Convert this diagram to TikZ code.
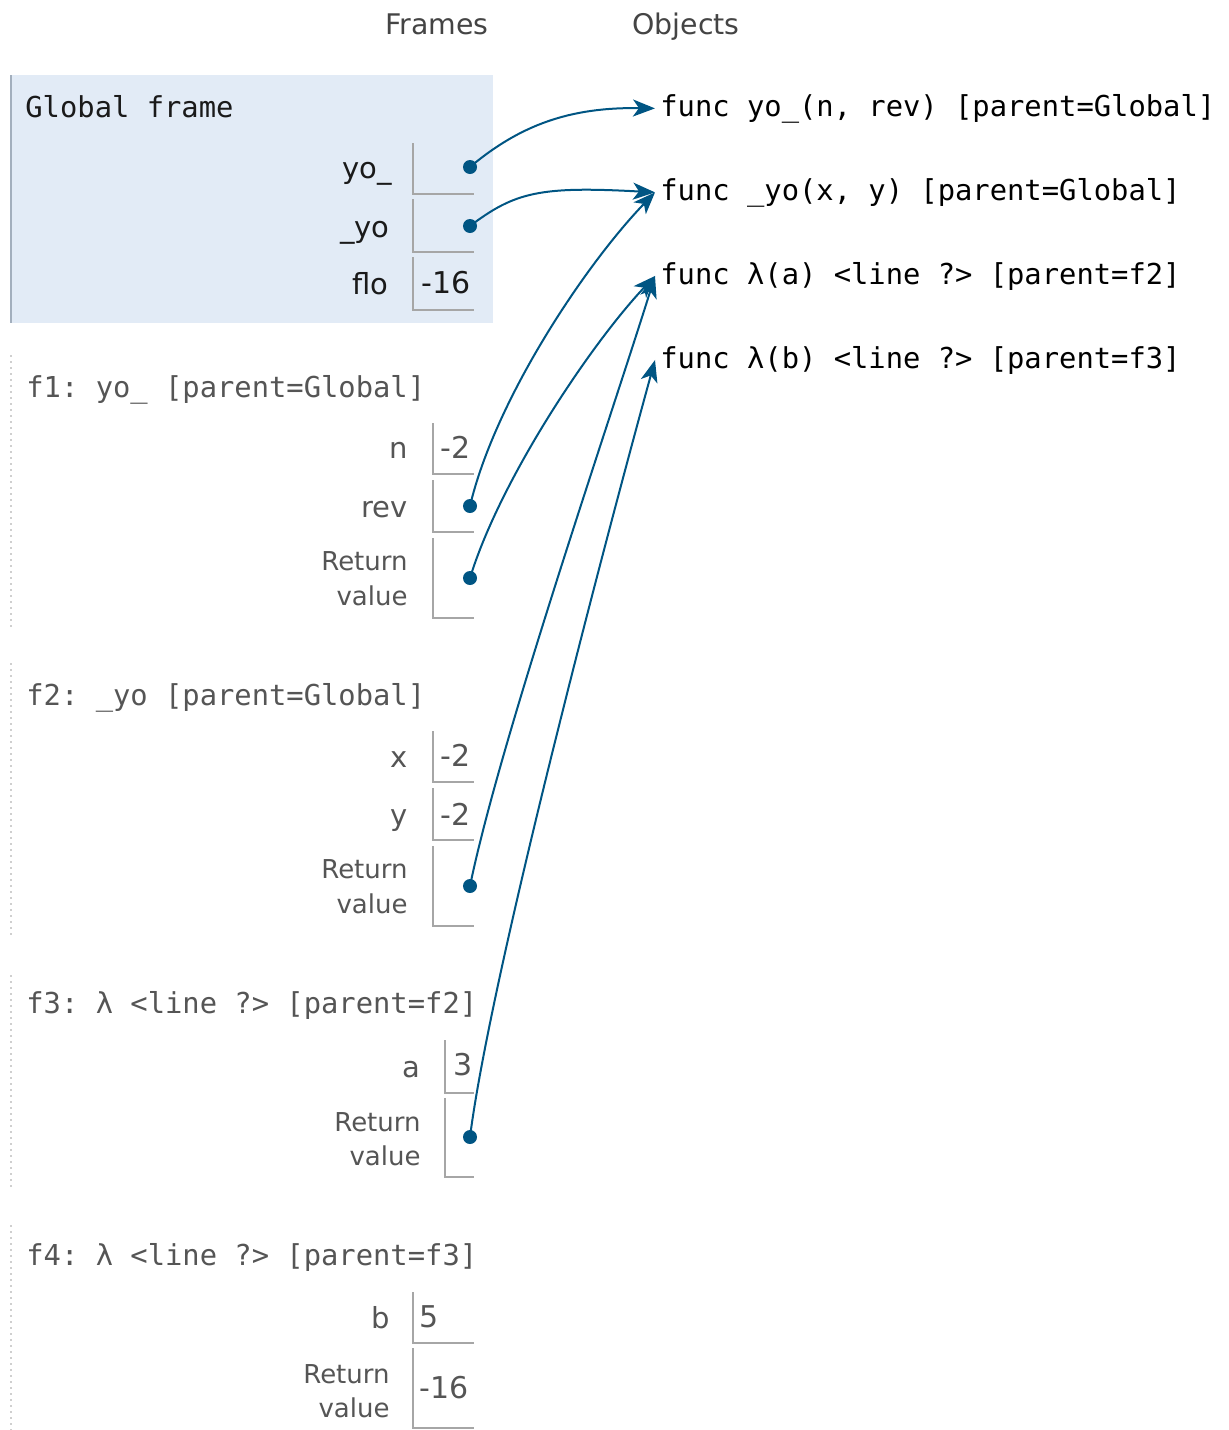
\documentclass[tikz,border=0pt]{standalone}
\usepackage{fontspec}
\setmainfont{DejaVu Sans}
\setmonofont{DejaVu Sans Mono}
\usetikzlibrary{arrows.meta}
\definecolor{ptrblue}{HTML}{005583}
\definecolor{globalbg}{HTML}{E2EBF6}
\definecolor{globaledge}{HTML}{A3AFBD}
\definecolor{boxgray}{HTML}{A6A6A6}
\definecolor{txtgray}{HTML}{555555}
\definecolor{txtdark}{HTML}{1A1A1A}
\definecolor{dotgray}{HTML}{CFCFCF}
\begin{document}
\begin{tikzpicture}[x=0.5pt,y=-0.5pt,
  header/.style={font=\fontsize{14.2}{16}\selectfont, text=txtgray!80!black, anchor=base west, inner sep=0pt},
  monotxt/.style={font=\ttfamily\fontsize{14.4}{16}\selectfont, anchor=base west, inner sep=0pt},
  gtitle/.style={monotxt, text=txtdark},
  ftitle/.style={monotxt, text=txtgray},
  objtxt/.style={monotxt, text=black, inner xsep=2.5pt},
  gname/.style={font=\fontsize{14.5}{16}\selectfont, text=txtdark, anchor=base east, inner sep=0pt},
  fname/.style={gname, text=txtgray},
  gval/.style={font=\fontsize{15}{16}\selectfont, text=txtdark, anchor=base west, inner sep=0pt},
  fval/.style={gval, text=txtgray},
  retlbl/.style={font=\fontsize{13}{15}\selectfont, text=txtgray, anchor=base east, inner sep=0pt},
  boxline/.style={draw=boxgray, line width=0.75pt},
  frameedge/.style={draw=dotgray, line width=1pt, dotted},
  ptrdot/.style={circle, fill=ptrblue, inner sep=0pt, minimum size=7pt},
  ptr/.style={draw=ptrblue, line width=1pt, -{Stealth[length=11pt, width=8.5pt, inset=3pt]}}
]
\useasboundingbox (0,0) rectangle (1228,1430);

% headers
\node[header] (hFrames) at (385,34) {Frames};
\node[header] (hObjects) at (632,34) {Objects};

% global frame
\fill[globalbg] (10,75) rectangle (493,323);
\draw[globaledge, line width=1.3pt] (11,75) -- (11,323);
\node[gtitle] (gTitle) at (25,117) {Global frame};
\node[gname] (gYoL) at (392,178) {yo\_};
\draw[boxline] (413,143) |- (474,194);
\node[ptrdot] (gYoD) at (470,167) {};
\node[gname] (gYo2L) at (390,237) {\_yo};
\draw[boxline] (413,199) |- (474,252);
\node[ptrdot] (gYo2D) at (470,226) {};
\node[gname] (gFloL) at (389,294) {flo};
\draw[boxline] (413,257) |- (474,310);
\node[gval] (gFloV) at (421,293) {-16};

% f1
\draw[frameedge] (11,355) -- (11,628);
\node[ftitle] (f1Title) at (26,397) {f1: yo\_ [parent=Global]};
\node[fname] (f1nL) at (408,458) {n};
\draw[boxline] (433,423) |- (474,474);
\node[fval] (f1nV) at (440,458) {-2};
\node[fname] (f1revL) at (408,517) {rev};
\draw[boxline] (433,480) |- (474,532);
\node[ptrdot] (f1revD) at (470,506) {};
\node[retlbl] (f1retA) at (408,570) {Return};
\node[retlbl] (f1retB) at (408,605) {value};
\draw[boxline] (433,538) |- (474,618);
\node[ptrdot] (f1retD) at (470,578) {};

% f2
\draw[frameedge] (11,663) -- (11,936);
\node[ftitle] (f2Title) at (26,705) {f2: \_yo [parent=Global]};
\node[fname] (f2xL) at (408,767) {x};
\draw[boxline] (433,731) |- (474,782);
\node[fval] (f2xV) at (440,766) {-2};
\node[fname] (f2yL) at (408,825) {y};
\draw[boxline] (433,788) |- (474,840);
\node[fval] (f2yV) at (440,825) {-2};
\node[retlbl] (f2retA) at (408,878) {Return};
\node[retlbl] (f2retB) at (408,913) {value};
\draw[boxline] (433,846) |- (474,926);
\node[ptrdot] (f2retD) at (470,886) {};

% f3
\draw[frameedge] (11,975) -- (11,1190);
\node[ftitle] (f3Title) at (26,1013) {f3: λ <line ?> [parent=f2]};
\node[fname] (f3aL) at (421,1077) {a};
\draw[boxline] (445,1040) |- (474,1093);
\node[fval] (f3aV) at (453,1075) {3};
\node[retlbl] (f3retA) at (421,1131) {Return};
\node[retlbl] (f3retB) at (421,1165) {value};
\draw[boxline] (445,1098) |- (474,1177);
\node[ptrdot] (f3retD) at (470,1137) {};

% f4
\draw[frameedge] (11,1225) -- (11,1430);
\node[ftitle] (f4Title) at (26,1265) {f4: λ <line ?> [parent=f3]};
\node[fname] (f4bL) at (390,1328) {b};
\draw[boxline] (413,1292) |- (474,1343);
\node[fval] (f4bV) at (419,1327) {5};
\node[retlbl] (f4retA) at (390,1383) {Return};
\node[retlbl] (f4retB) at (390,1417) {value};
\draw[boxline] (413,1348) |- (474,1428);
\node[fval] (f4retV) at (419,1398) {-16};

% objects
\node[objtxt] (oYo) at (655,116) {func yo\_(n, rev) [parent=Global]};
\node[objtxt] (oYo2) at (655,200) {func \_yo(x, y) [parent=Global]};
\node[objtxt] (oLamA) at (655,284) {func λ(a) <line ?> [parent=f2]};
\node[objtxt] (oLamB) at (655,368) {func λ(b) <line ?> [parent=f3]};

% pointers
\draw[ptr] (gYoD.center) .. controls (520,125) and (570,107) .. (oYo.west);
\draw[ptr] (gYo2D.center) .. controls (515,192) and (540,186) .. (oYo2.west);
\draw[ptr] (f1revD.center) .. controls (495,400) and (585,265) .. (oYo2.west);
\draw[ptr] (f1retD.center) .. controls (500,480) and (590,345) .. (oLamA.west);
\draw[ptr] (f2retD.center) .. controls (500,740) and (610,420) .. (oLamA.west);
\draw[ptr] (f3retD.center) .. controls (490,980) and (600,560) .. (oLamB.west);
\end{tikzpicture}
\end{document}
